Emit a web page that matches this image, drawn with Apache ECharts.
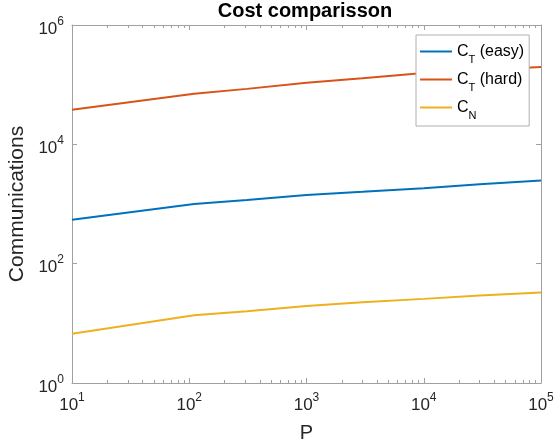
<!DOCTYPE html>
<html>
<head>
<meta charset="utf-8">
<script src="https://cdn.jsdelivr.net/npm/echarts@6/dist/echarts.min.js"></script>
<style>
html,body{margin:0;padding:0;background:#fff;}
#chart{width:555px;height:444px;}
</style>
</head>
<body>
<div id="chart"></div>
<script>
// ---- data ----
var P = [10, 110, 310, 1000, 3000, 10000, 30000, 100000];
var ctEasy = [545, 1000, 1167, 1410, 1600, 1845, 2150, 2470];
var ctHard = [38000, 70500, 85000, 108000, 128000, 157000, 176000, 198000];
var cN = [6.67, 13.7, 16, 19.6, 22.6, 25.7, 29.3, 32.9];

var seriesNames = ['CT (easy)', 'CT (hard)', 'CN'];
var legendMain = ['C', 'C', 'C'];
var legendSub = ['T', 'T', 'N'];
var legendRest = [' (easy)', ' (hard)', ''];

var xTickVals = [10, 100, 1000, 10000, 100000];
var xTickExp = ['1', '2', '3', '4', '5'];
var xMinorVals = [20,30,40,50,60,70,80,90,200,300,400,500,600,700,800,900,
  2000,3000,4000,5000,6000,7000,8000,9000,20000,30000,40000,50000,60000,70000,80000,90000];
var yTickVals = [1, 100, 10000, 1000000];
var yTickExp = ['0', '2', '4', '6'];

var colors = ['#0072BD', '#D95319', '#EDB120'];
var axisCol = '#a0a0a0';
var textCol = '#262626';
var FONT = '"Liberation Sans", Arial, Helvetica, sans-serif';

function pairs(xs, ys) { return xs.map(function (x, i) { return [x, ys[i]]; }); }

function expLabel(vals, exps) {
  return function (v) {
    var best = 0, bd = Infinity;
    for (var i = 0; i < vals.length; i++) {
      var d = Math.abs(Math.log10(v) - Math.log10(vals[i]));
      if (d < bd) { bd = d; best = i; }
    }
    return '{b|10}{s|' + exps[best] + '}';
  };
}
var expRich = {
  b: { fontSize: 17, lineHeight: 27, color: textCol, fontFamily: FONT },
  s: { fontSize: 12, lineHeight: 12, padding: [0, 0, 15, 0], color: textCol, fontFamily: FONT }
};

function xAx(pos, vals, len, showLine, showLabel) {
  return {
    type: 'log', logBase: 10, min: 10, max: 100000, position: pos, gridIndex: 0,
    axisLine: { show: showLine, onZero: false, lineStyle: { color: axisCol, width: 1 } },
    axisTick: { show: true, inside: true, length: len, customValues: vals, lineStyle: { color: axisCol } },
    axisLabel: { show: showLabel, customValues: vals, margin: 9, formatter: expLabel(xTickVals, xTickExp), rich: expRich },
    splitLine: { show: false }, minorTick: { show: false }
  };
}

var chart = echarts.init(document.getElementById('chart'), null, { renderer: 'canvas' });
chart.setOption({
  animation: false,
  backgroundColor: '#fff',
  textStyle: { fontFamily: FONT },
  title: {
    text: 'Cost comparisson', left: 305, top: 1, textAlign: 'center', padding: 0,
    textStyle: { fontSize: 20, fontWeight: 'bold', color: '#000', fontFamily: FONT }
  },
  grid: { left: 72, right: 14, top: 25, bottom: 61, containLabel: false, outerBoundsMode: 'none' },
  legend: {
    data: seriesNames, orient: 'vertical', left: 416, top: 35,
    icon: 'rect', itemWidth: 32, itemHeight: 2, itemGap: 1,
    padding: [3, 5, 5, 4],
    backgroundColor: '#fff', borderColor: '#b0b0b0', borderWidth: 1, borderRadius: 0,
    formatter: function (name) {
      var i = seriesNames.indexOf(name);
      return '{m|' + legendMain[i] + '}{u|' + legendSub[i] + '}{m|' + legendRest[i] + '}';
    },
    textStyle: {
      color: '#000',
      rich: {
        m: { fontSize: 16, lineHeight: 28, color: '#000', fontFamily: FONT },
        u: { fontSize: 11, lineHeight: 12, padding: [16, 0, 0, 0], color: '#000', fontFamily: FONT }
      }
    }
  },
  xAxis: [
    Object.assign(xAx('bottom', xTickVals, 5, true, true), {
      name: 'P', nameLocation: 'middle', nameGap: 38,
      nameTextStyle: { fontSize: 20, color: textCol, fontFamily: FONT }
    }),
    xAx('bottom', xMinorVals, 3, false, false),
    xAx('top', xTickVals, 5, true, false),
    xAx('top', xMinorVals, 3, false, false)
  ],
  yAxis: [
    {
      type: 'log', logBase: 10, min: 1, max: 1000000, position: 'left',
      name: 'Communications', nameLocation: 'middle', nameGap: 34,
      nameTextStyle: { fontSize: 21, color: textCol, fontFamily: FONT },
      axisLine: { show: true, onZero: false, lineStyle: { color: axisCol, width: 1 } },
      axisTick: { show: true, inside: true, length: 5, customValues: yTickVals, lineStyle: { color: axisCol } },
      axisLabel: { customValues: yTickVals, margin: 8, padding: [8, 0, 0, 0], formatter: expLabel(yTickVals, yTickExp), rich: expRich },
      splitLine: { show: false }, minorTick: { show: false }
    },
    {
      type: 'log', logBase: 10, min: 1, max: 1000000, position: 'right',
      axisLine: { show: true, onZero: false, lineStyle: { color: axisCol, width: 1 } },
      axisTick: { show: true, inside: true, length: 5, customValues: yTickVals, lineStyle: { color: axisCol } },
      axisLabel: { show: false },
      splitLine: { show: false }
    }
  ],
  series: [
    { name: seriesNames[0], type: 'line', data: pairs(P, ctEasy), symbol: 'none', lineStyle: { width: 2, color: colors[0] }, itemStyle: { color: colors[0] }, xAxisIndex: 0, yAxisIndex: 0 },
    { name: seriesNames[1], type: 'line', data: pairs(P, ctHard), symbol: 'none', lineStyle: { width: 2, color: colors[1] }, itemStyle: { color: colors[1] }, xAxisIndex: 0, yAxisIndex: 0 },
    { name: seriesNames[2], type: 'line', data: pairs(P, cN), symbol: 'none', lineStyle: { width: 2, color: colors[2] }, itemStyle: { color: colors[2] }, xAxisIndex: 0, yAxisIndex: 0 }
  ]
});
</script>
</body>
</html>
